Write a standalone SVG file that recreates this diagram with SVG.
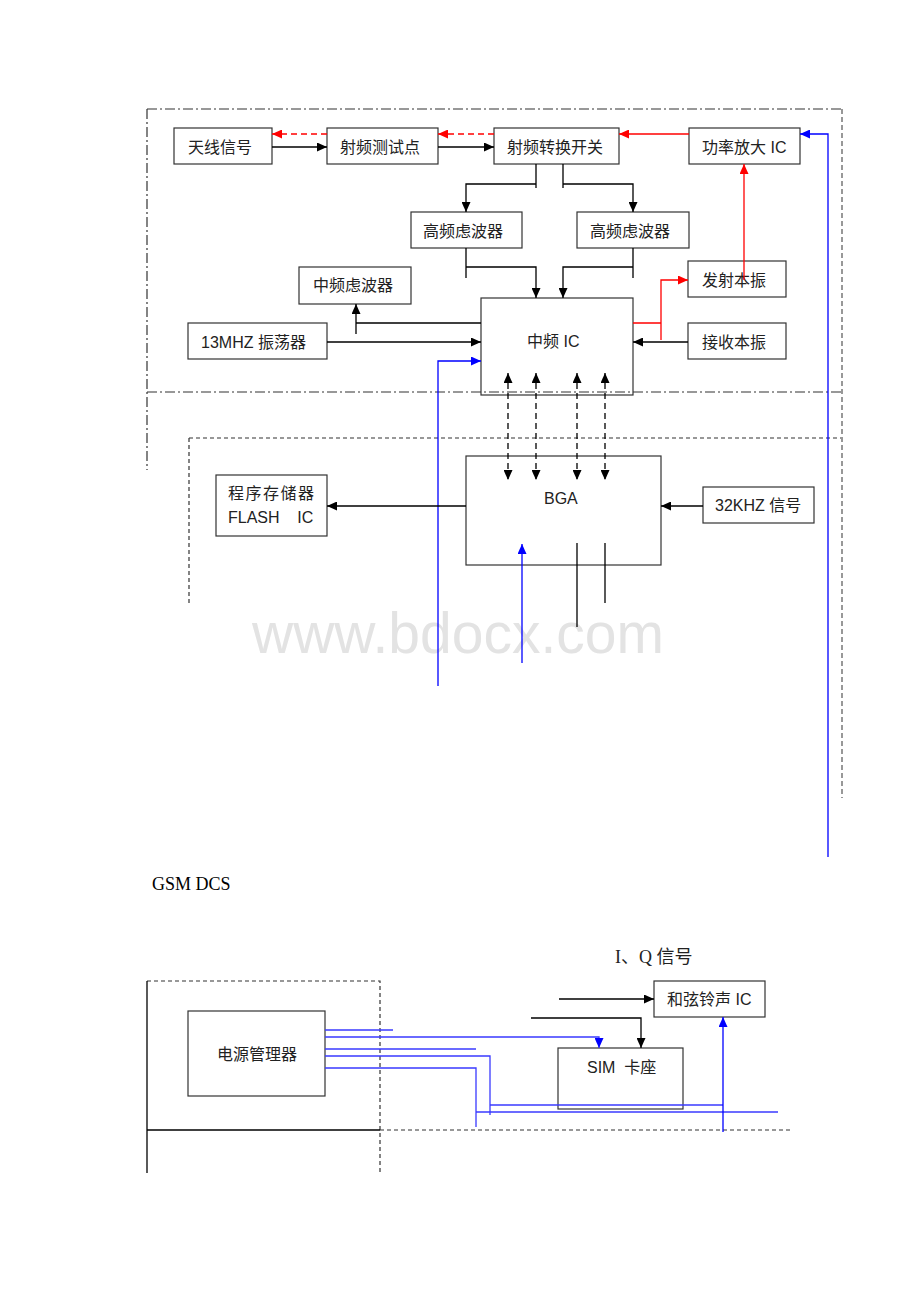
<svg xmlns="http://www.w3.org/2000/svg" width="920" height="1302" viewBox="0 0 920 1302">
<style>
.box{fill:#fff;stroke:#333;stroke-width:1.2}
.t{font-family:"Liberation Sans","Noto Sans CJK SC",sans-serif;font-size:16px;fill:#222}
.k{fill:none;stroke:#000;stroke-width:1.3}
.r{fill:none;stroke:#f00;stroke-width:1.3}
.b{fill:none;stroke:#00f;stroke-width:1.3}
.bl{fill:none;stroke:#3a3aff;stroke-width:1.3}
.dd{fill:none;stroke:#333;stroke-width:1.2;stroke-dasharray:10,3,2,3}
.ds{fill:none;stroke:#333;stroke-width:1.2;stroke-dasharray:4,3}
.dg{fill:none;stroke:#777;stroke-width:1.5;stroke-dasharray:5,3}
</style>
<defs>
<marker id="ak" markerUnits="userSpaceOnUse" markerWidth="10" markerHeight="9" refX="10" refY="4.5" orient="auto-start-reverse"><path d="M0,0 L10,4.5 L0,9 z" fill="#000"/></marker>
<marker id="ar" markerUnits="userSpaceOnUse" markerWidth="10" markerHeight="9" refX="10" refY="4.5" orient="auto"><path d="M0,0 L10,4.5 L0,9 z" fill="#f00"/></marker>
<marker id="ab" markerUnits="userSpaceOnUse" markerWidth="10" markerHeight="9" refX="10" refY="4.5" orient="auto"><path d="M0,0 L10,4.5 L0,9 z" fill="#00f"/></marker>
</defs>
<rect width="920" height="1302" fill="#fff"/>

<!-- watermark -->
<text x="252" y="653" font-family="Liberation Sans, Arial, sans-serif" font-size="57" fill="#e3e3e3" textLength="412">www.bdocx.com</text>

<!-- nodes -->
<g id="n-antenna"><rect class="box" x="174" y="128" width="98" height="36"/><text class="t" x="188" y="152.5">天线信号</text></g>
<g id="n-rftest"><rect class="box" x="327" y="128" width="111" height="36"/><text class="t" x="340" y="152.5">射频测试点</text></g>
<g id="n-rfswitch"><rect class="box" x="494" y="128" width="125" height="36"/><text class="t" x="507" y="152.5">射频转换开关</text></g>
<g id="n-pa"><rect class="box" x="689" y="128" width="111" height="36"/><text class="t" x="702" y="152.5">功率放大 IC</text></g>
<g id="n-hf1"><rect class="box" x="411" y="212" width="111" height="36"/><text class="t" x="423" y="236.5">高频虑波器</text></g>
<g id="n-hf2"><rect class="box" x="577" y="212" width="112" height="36"/><text class="t" x="590" y="236.5">高频虑波器</text></g>
<g id="n-iffilter"><rect class="box" x="299" y="267" width="112" height="37"/><text class="t" x="313" y="291">中频虑波器</text></g>
<g id="n-txlo"><rect class="box" x="688" y="261" width="98" height="36"/><text class="t" x="702" y="285.5">发射本振</text></g>
<g id="n-osc"><rect class="box" x="188" y="323" width="139" height="36"/><text class="t" x="201" y="347.5">13MHZ 振荡器</text></g>
<g id="n-ific"><rect class="box" x="481" y="298" width="152" height="97"/><text class="t" x="527" y="347">中频 IC</text></g>
<g id="n-rxlo"><rect class="box" x="688" y="323" width="98" height="36"/><text class="t" x="702" y="347.5">接收本振</text></g>
<g id="n-flash"><rect class="box" x="216" y="475" width="111" height="61"/><text class="t" x="228" y="499" letter-spacing="1.5">程序存储器</text><text class="t" x="228" y="523" xml:space="preserve">FLASH    IC</text></g>
<g id="n-bga"><rect class="box" x="466" y="456" width="195" height="109"/><text class="t" x="544" y="504">BGA</text></g>
<g id="n-32k"><rect class="box" x="703" y="487" width="111" height="36"/><text class="t" x="715" y="511">32KHZ 信号</text></g>
<g id="n-pmu"><rect class="box" x="188" y="1011" width="137" height="85"/><text class="t" x="217" y="1060">电源管理器</text></g>
<g id="n-ring"><rect class="box" x="654" y="981" width="111" height="36"/><text class="t" x="667" y="1005">和弦铃声 IC</text></g>
<g id="n-sim"><rect class="box" x="558" y="1048" width="125" height="61"/><text class="t" x="587" y="1073" xml:space="preserve">SIM  卡座</text></g>

<!-- frames -->
<g id="frames">
<path class="dd" d="M147,109 H841"/>
<path class="dd" d="M147,109 V470"/>
<path class="dd" d="M147,392 H841"/>
<path class="dg" d="M842,109 V798"/>
<path class="ds" d="M189,438 H841"/>
<path class="ds" d="M189,438 V603"/>
<path class="ds" d="M147,981 H380 V1173"/>
<path class="k" d="M147,981 V1173" stroke-width="1.2"/>
<path class="k" d="M147,1130 H380" stroke-width="1.2"/>
<path class="ds" d="M380,1130 H793"/>
</g>

<!-- connectors -->
<g id="connectors">
<path class="k" d="M272,147 H327" marker-end="url(#ak)"/>
<path class="k" d="M438,147 H494" marker-end="url(#ak)"/>
<path class="r" d="M327,134 H272" stroke-dasharray="6,4" marker-end="url(#ar)"/>
<path class="r" d="M494,134 H438" stroke-dasharray="6,4" marker-end="url(#ar)"/>
<path class="r" d="M689,134 H619" marker-end="url(#ar)"/>
<path class="b" d="M828,857 V134 H800" marker-end="url(#ab)"/>
<path class="r" d="M744,280 V164" marker-end="url(#ar)"/>
<path class="k" d="M536,164 V188 M536,184 H466 V212" marker-end="url(#ak)"/>
<path class="k" d="M563,164 V188 M563,184 H633 V212" marker-end="url(#ak)"/>
<path class="k" d="M466,248 V278 M466,267 H536 V298" marker-end="url(#ak)"/>
<path class="k" d="M633,248 V278 M633,267 H563 V298" marker-end="url(#ak)"/>
<path class="r" d="M633,323 H661 M661,340 V280 H688" marker-end="url(#ar)"/>
<path class="k" d="M688,342 H633" marker-end="url(#ak)"/>
<path class="k" d="M327,342 H481" marker-end="url(#ak)"/>
<path class="k" d="M481,323 H356 M356,334 V304" marker-end="url(#ak)"/>
<path class="b" d="M438,686 V361 H481" marker-end="url(#ab)"/>
<path class="k" d="M508,373 V480" stroke-dasharray="6,4" marker-start="url(#ak)" marker-end="url(#ak)"/>
<path class="k" d="M536,373 V480" stroke-dasharray="6,4" marker-start="url(#ak)" marker-end="url(#ak)"/>
<path class="k" d="M577,373 V480" stroke-dasharray="6,4" marker-start="url(#ak)" marker-end="url(#ak)"/>
<path class="k" d="M605,373 V480" stroke-dasharray="6,4" marker-start="url(#ak)" marker-end="url(#ak)"/>
<path class="k" d="M703,506 H661" marker-end="url(#ak)"/>
<path class="k" d="M466,506 H327" marker-end="url(#ak)"/>
<path class="b" d="M522,663 V544" marker-end="url(#ab)"/>
<path class="k" d="M577,543 V627"/>
<path class="k" d="M605,543 V603"/>
<path class="bl" d="M325,1030 H393"/>
<path class="bl" d="M325,1037 H599 V1048" marker-end="url(#ab)"/>
<path class="bl" d="M325,1049 H476"/>
<path class="bl" d="M325,1056 H490 V1115"/>
<path class="bl" d="M325,1068 H476 V1127"/>
<path class="bl" d="M490,1105 H723"/>
<path class="bl" d="M476,1112 H778"/>
<path class="b" d="M723,1132 V1017" marker-end="url(#ab)"/>
<path class="k" d="M559,999 H654" marker-end="url(#ak)"/>
<path class="k" d="M531,1018 H641 V1048" marker-end="url(#ak)"/>
</g>

<g id="labels">
<text x="152" y="890" font-family="Liberation Serif, 'Times New Roman', serif" font-size="18" fill="#000">GSM DCS</text>
<text x="615" y="963" font-family="'Liberation Serif','Noto Sans CJK SC',serif" font-size="18" fill="#222">I、Q 信号</text>
</g>
</svg>
